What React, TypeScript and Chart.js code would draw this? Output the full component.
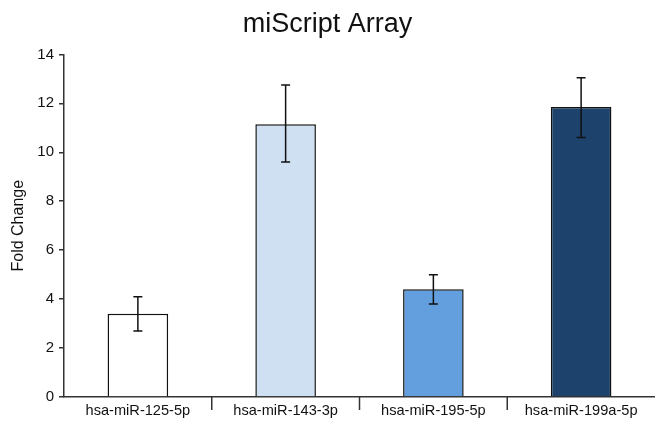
import React, { useEffect, useRef } from "react";
import { Chart, registerables } from "chart.js";

Chart.register(...registerables);

const categories = ["hsa-miR-125-5p", "hsa-miR-143-3p", "hsa-miR-195-5p", "hsa-miR-199a-5p"];
const foldChange = [3.4, 11.15, 4.4, 11.85];
const errorLow = [2.7, 9.6, 3.8, 10.6];
const errorHigh = [4.1, 12.75, 5.0, 13.05];
const barColors = ["#ffffff", "#cfe0f3", "#639fdf", "#1d426b"];
const yTicks = [0, 2, 4, 6, 8, 10, 12, 14];

const FONT = "'Liberation Sans', Arial, sans-serif";

// Error bars with short caps, drawn over the bars
const errorBarPlugin = {
  id: "errorBars",
  afterDatasetsDraw(chart: any) {
    const { ctx, scales } = chart;
    const meta = chart.getDatasetMeta(0);
    ctx.save();
    ctx.strokeStyle = "#111";
    ctx.lineWidth = 1.5;
    meta.data.forEach((bar: any, i: number) => {
      const x = bar.x;
      const yLo = scales.y.getPixelForValue(errorLow[i]);
      const yHi = scales.y.getPixelForValue(errorHigh[i]);
      const cap = 4.5;
      ctx.beginPath();
      ctx.moveTo(x, yLo);
      ctx.lineTo(x, yHi);
      ctx.moveTo(x - cap, yLo);
      ctx.lineTo(x + cap, yLo);
      ctx.moveTo(x - cap, yHi);
      ctx.lineTo(x + cap, yHi);
      ctx.stroke();
    });
    ctx.restore();
  },
};

// Vertical separators between category labels, below the x axis
const categoryDividerPlugin = {
  id: "categoryDividers",
  afterDraw(chart: any) {
    const { ctx, scales, chartArea } = chart;
    const x = scales.x;
    ctx.save();
    ctx.strokeStyle = "#333";
    ctx.lineWidth = 1.5;
    for (let i = 0; i < categories.length - 1; i++) {
      const px = (x.getPixelForValue(i) + x.getPixelForValue(i + 1)) / 2;
      ctx.beginPath();
      ctx.moveTo(px, chartArea.bottom);
      ctx.lineTo(px, chartArea.bottom + 13);
      ctx.stroke();
    }
    ctx.restore();
  },
};

export default function App() {
  const canvasRef = useRef<HTMLCanvasElement | null>(null);

  useEffect(() => {
    document.body.style.margin = "0";
    const canvas = canvasRef.current;
    if (!canvas) return;
    const chart = new Chart(canvas, {
      type: "bar",
      data: {
        labels: categories,
        datasets: [
          {
            data: foldChange,
            backgroundColor: barColors,
            borderColor: "#111",
            borderWidth: 1.5,
            barPercentage: 0.41,
            categoryPercentage: 1,
          },
        ],
      },
      plugins: [errorBarPlugin, categoryDividerPlugin],
      options: {
        responsive: false,
        animation: false,
        layout: { padding: { left: 0, right: 0, top: 0, bottom: 0 } },
        plugins: {
          legend: { display: false },
          tooltip: { enabled: false },
          title: {
            display: true,
            text: "miScript Array",
            color: "#111",
            font: { family: FONT, size: 27, weight: "normal" },
            padding: { top: 8, bottom: 14 },
          },
        },
        scales: {
          x: {
            offset: true,
            afterFit(scale: any) {
              scale.height = 27;
            },
            grid: {
              display: true,
              drawOnChartArea: false,
              drawTicks: false,
              color: "rgba(0,0,0,0)",
            },
            border: { display: true, color: "#333", width: 1.5 },
            ticks: {
              color: "#111",
              padding: 5,
              font: { family: FONT, size: 14.6 },
              maxRotation: 0,
              autoSkip: false,
            },
          },
          y: {
            min: 0,
            max: 14,
            afterFit(scale: any) {
              scale.width = 64;
            },
            afterBuildTicks(scale: any) {
              scale.ticks = yTicks.map((v) => ({ value: v }));
            },
            grid: {
              drawOnChartArea: false,
              tickLength: 5,
              lineWidth: 1.5,
              color: "#333",
            },
            border: { display: true, color: "#333", width: 1.5 },
            ticks: {
              color: "#111",
              padding: 5,
              font: { family: FONT, size: 15 },
            },
            title: {
              display: true,
              text: "Fold Change",
              color: "#111",
              font: { family: FONT, size: 16 },
              padding: { top: 9, bottom: 4 },
            },
          },
        },
      },
    });
    return () => chart.destroy();
  }, []);

  return <canvas ref={canvasRef} width={655} height={424} style={{ display: "block" }} />;
}
